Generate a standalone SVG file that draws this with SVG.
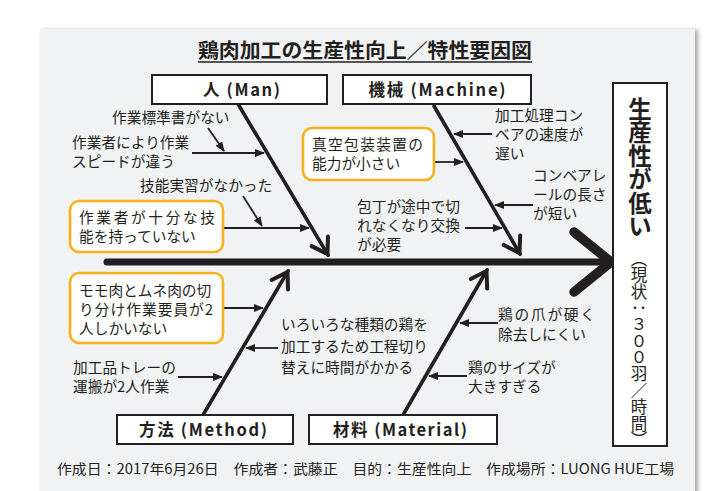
<svg xmlns="http://www.w3.org/2000/svg" width="728" height="491" viewBox="0 0 728 491">
<defs>
<filter id="sh" x="-5%" y="-5%" width="110%" height="110%"><feDropShadow dx="3" dy="1" stdDeviation="2" flood-color="#000" flood-opacity="0.35"/></filter>
<marker id="ah" markerUnits="userSpaceOnUse" markerWidth="10" markerHeight="8" refX="9" refY="4" orient="auto"><path d="M0,0 L10,4 L0,8 z" fill="#231f20"/></marker>
<marker id="chev" markerUnits="userSpaceOnUse" markerWidth="30" markerHeight="30" refX="20" refY="15" orient="auto"><path d="M4,5.5 L19,15 L4,24.5" fill="none" stroke="#231f20" stroke-width="4" stroke-linecap="round" stroke-linejoin="miter"/></marker>
<style>
text{font-family:"Noto Sans CJK JP","Noto Sans",sans-serif;fill:#231f20}
.t{font-size:14.7px}
.cat{font-size:16.5px;font-weight:700;text-anchor:middle}
.catbox{fill:#fff;stroke:#231f20;stroke-width:2}
.ybox{fill:#fff;stroke:#f8b11b;stroke-width:2.6}
.sub{stroke:#231f20;stroke-width:1.8;fill:none;marker-end:url(#ah)}
.bone{stroke:#231f20;stroke-width:3.6;fill:none;stroke-linecap:round;marker-end:url(#chev)}
</style>
</defs>
<rect x="0" y="0" width="728" height="491" fill="#fff"/>
<rect x="40" y="29" width="655" height="480" fill="#f1f2f4" filter="url(#sh)"/>

<g id="title">
<text x="198" y="58" font-size="20" font-weight="700" textLength="334" lengthAdjust="spacingAndGlyphs">鶏肉加工の生産性向上／特性要因図</text>
<line x1="198" y1="62" x2="532" y2="62" stroke="#231f20" stroke-width="1.6"/>
</g>

<g id="connectors">
<line x1="107" y1="262" x2="606" y2="262" stroke="#231f20" stroke-width="7" stroke-linecap="round"/>
<polyline points="574,232 611,262 574,292" fill="none" stroke="#231f20" stroke-width="9.5" stroke-linecap="round" stroke-linejoin="miter"/>
<line class="bone" x1="238" y1="104" x2="328" y2="255"/>
<line class="bone" x1="434" y1="106" x2="520" y2="254"/>
<line class="bone" x1="203" y1="415" x2="288" y2="271"/>
<line class="bone" x1="403" y1="415" x2="487" y2="270"/>
<line class="sub" x1="208" y1="128" x2="224" y2="151"/>
<line class="sub" x1="192" y1="153" x2="264" y2="153"/>
<line class="sub" x1="243" y1="196" x2="262" y2="226"/>
<line class="sub" x1="223" y1="228" x2="309" y2="228"/>
<line class="sub" x1="492" y1="134" x2="454" y2="134"/>
<line class="sub" x1="434" y1="162" x2="463" y2="162"/>
<line class="sub" x1="533" y1="205" x2="495" y2="205"/>
<line class="sub" x1="465" y1="228" x2="502" y2="228"/>
<line class="sub" x1="223" y1="308" x2="263" y2="308"/>
<line class="sub" x1="278" y1="348" x2="246" y2="348"/>
<line class="sub" x1="178" y1="377" x2="222" y2="377"/>
<line class="sub" x1="498" y1="323" x2="460" y2="323"/>
<line class="sub" x1="467" y1="376" x2="429" y2="376"/>
</g>

<g id="cat-man"><rect class="catbox" x="152" y="75" width="175" height="29"/><text class="cat" x="241.5" y="96" textLength="77">人 (Man)</text></g>
<g id="cat-machine"><rect class="catbox" x="343" y="75" width="188" height="29"/><text class="cat" x="437" y="96" textLength="137">機械 (Machine)</text></g>
<g id="cat-method"><rect class="catbox" x="117" y="415" width="176" height="29"/><text class="cat" x="203" y="436" textLength="128">方法 (Method)</text></g>
<g id="cat-material"><rect class="catbox" x="309" y="415" width="188" height="29"/><text class="cat" x="400" y="436" textLength="134">材料 (Material)</text></g>

<g id="effect">
<rect x="613" y="83" width="54" height="363" fill="#fff" stroke="#231f20" stroke-width="2"/>
<text x="640" y="97" font-size="23.5" font-weight="700" style="writing-mode:vertical-rl">生産性が低い</text>
<text x="639" y="250" font-size="16.5" style="writing-mode:vertical-rl">（現状：３００羽／時間）</text>
</g>

<g id="man-1"><text class="t" x="112" y="123">作業標準書がない</text></g>
<g id="man-2"><text class="t" x="72" y="148">作業者により作業</text><text class="t" x="72" y="167">スピードが違う</text></g>
<g id="man-3"><text class="t" x="140" y="191">技能実習がなかった</text></g>
<g id="man-4"><rect class="ybox" x="70" y="201" width="153" height="51" rx="9"/><text class="t" x="79" y="223" textLength="136">作業者が十分な技</text><text class="t" x="79" y="242">能を持っていない</text></g>

<g id="machine-1"><text class="t" x="495" y="121">加工処理コン</text><text class="t" x="495" y="140">ベアの速度が</text><text class="t" x="495" y="159">遅い</text></g>
<g id="machine-2"><rect class="ybox" x="303" y="128" width="131" height="52" rx="9"/><text class="t" x="312" y="150" textLength="111">真空包装装置の</text><text class="t" x="312" y="169">能力が小さい</text></g>
<g id="machine-3"><text class="t" x="533" y="181">コンベアレ</text><text class="t" x="533" y="200">ールの長さ</text><text class="t" x="533" y="219">が短い</text></g>
<g id="machine-4"><text class="t" x="357" y="212">包丁が途中で切</text><text class="t" x="357" y="231">れなくなり交換</text><text class="t" x="357" y="250">が必要</text></g>

<g id="method-1"><rect class="ybox" x="70" y="273" width="153" height="70" rx="9"/><text class="t" x="79" y="296">モモ肉とムネ肉の切</text><text class="t" x="79" y="315" textLength="134">り分け作業要員が2</text><text class="t" x="79" y="334">人しかいない</text></g>
<g id="method-2"><text class="t" x="73" y="373">加工品トレーの</text><text class="t" x="73" y="392">運搬が2人作業</text></g>
<g id="method-3"><text class="t" x="281" y="330">いろいろな種類の鶏を</text><text class="t" x="281" y="352">加工するため工程切り</text><text class="t" x="281" y="373">替えに時間がかかる</text></g>

<g id="material-1"><text class="t" x="498" y="320" textLength="97">鶏の爪が硬く</text><text class="t" x="498" y="340">除去しにくい</text></g>
<g id="material-2"><text class="t" x="468" y="373">鶏のサイズが</text><text class="t" x="468" y="392">大きすぎる</text></g>

<g id="footer"><text x="57" y="474" font-size="14" textLength="617" lengthAdjust="spacingAndGlyphs">作成日：2017年6月26日　作成者：武藤正　目的：生産性向上　作成場所：LUONG HUE工場</text></g>
</svg>
